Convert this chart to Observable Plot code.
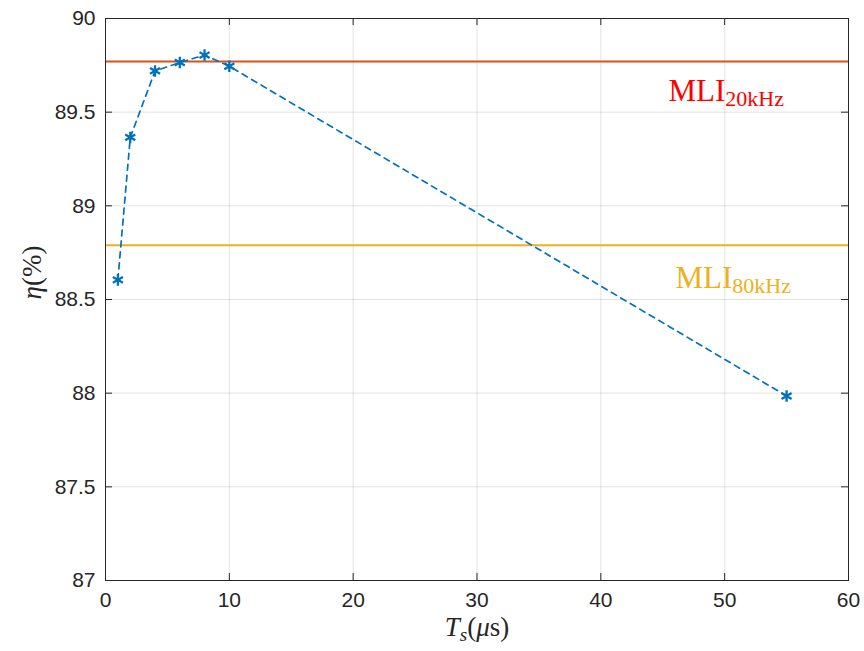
<!DOCTYPE html>
<html><head><meta charset="utf-8">
<script src="https://cdn.jsdelivr.net/npm/d3@7"></script>
<script src="https://cdn.jsdelivr.net/npm/@observablehq/plot@0.6"></script>
<style>body{margin:0;background:#fff}</style>
</head><body><div id="chart"></div>
<script>
// Data
const ts = [1, 2, 4, 6, 8, 10, 55];
const eta = [88.605, 89.365, 89.72, 89.765, 89.805, 89.745, 87.985];
const mliLevels = [89.77, 88.79];
const mliSubs = ["20kHz", "80kHz"];
const mliLineColors = ["#D95319", "#EDB120"];
const mliTextColors = ["#FF0000", "#EDB120"];
const mliLabelX = [45.46, 46.03];
const mliLabelY = [89.562, 88.564];
const xTicks = [0, 10, 20, 30, 40, 50, 60];
const yTicks = [87, 87.5, 88, 88.5, 89, 89.5, 90];

const pts = ts.map((t, i) => ({t, eta: eta[i]}));
const mli = mliLevels.map((v, i) => ({v, sub: mliSubs[i], line: mliLineColors[i], tc: mliTextColors[i], lx: mliLabelX[i], ly: mliLabelY[i]}));

const sans = "'Liberation Sans', Arial, Helvetica, sans-serif";
const serif = "'Liberation Serif', 'Times New Roman', serif";
const W = 864, H = 651, ML = 105, MR = 16, MT = 18, MB = 71;
const fw = W - ML - MR, fh = H - MT - MB, tk = 7;
const fmt = d => String(d);

const svg = Plot.plot({
  width: W, height: H,
  marginLeft: ML, marginRight: MR, marginTop: MT, marginBottom: MB,
  style: {fontFamily: sans, fontSize: "21px", color: "#262626", background: "#fff"},
  x: {domain: [0, 60]},
  y: {domain: [87, 90]},
  marks: [
    Plot.gridX(xTicks, {stroke: "#262626", strokeOpacity: 0.13, strokeWidth: 1}),
    Plot.gridY(yTicks, {stroke: "#262626", strokeOpacity: 0.13, strokeWidth: 1}),
    Plot.ruleY(mli, {y: "v", stroke: "line", strokeWidth: 2}),
    Plot.line(pts, {x: "t", y: "eta", stroke: "#0072BD", strokeWidth: 1.7, strokeDasharray: "6,5"}),
    Plot.dot(pts, {x: "t", y: "eta", symbol: "asterisk", r: 5.5, stroke: "#0072BD", strokeWidth: 2.3}),
    Plot.text(mli, {x: "lx", y: "ly", text: "sub", fill: "tc", textAnchor: "start", lineAnchor: "bottom", fontFamily: serif, fontSize: 31}),
    // inward MATLAB-style ticks on all four sides
    Plot.tickX(xTicks, {x: d => d, insetTop: fh - tk, stroke: "#262626"}),
    Plot.tickX(xTicks, {x: d => d, insetBottom: fh - tk, stroke: "#262626"}),
    Plot.tickY(yTicks, {y: d => d, insetRight: fw - tk, stroke: "#262626"}),
    Plot.tickY(yTicks, {y: d => d, insetLeft: fw - tk, stroke: "#262626"}),
    Plot.frame({stroke: "#262626", strokeWidth: 1}),
    Plot.axisX({ticks: xTicks, anchor: "bottom", tickSize: 0, tickPadding: 12, tickFormat: fmt, label: null, fontSize: 21}),
    Plot.axisY({ticks: yTicks, anchor: "left", tickSize: 0, tickPadding: 10, tickFormat: fmt, label: null, fontSize: 21}),
    Plot.text(["__XTITLE__"], {frameAnchor: "bottom", dy: 55, lineAnchor: "bottom", text: d => d, fontFamily: serif, fontSize: 27, fill: "#262626"}),
    Plot.text(["__YTITLE__"], {frameAnchor: "left", dx: -65, rotate: -90, lineAnchor: "bottom", text: d => d, fontFamily: serif, fontSize: 27, fill: "#262626"})
  ]
});

const s = d3.select(svg);
s.selectAll("text").each(function() {
  const el = d3.select(this);
  const t = this.textContent;
  if (mliSubs.includes(t)) {
    el.text(null);
    el.append("tspan").text("MLI");
    el.append("tspan").attr("font-size", 22).attr("dy", 5).text(t);
  } else if (t === "__XTITLE__") {
    el.text(null);
    el.append("tspan").attr("font-style", "italic").text("T");
    el.append("tspan").attr("font-style", "italic").attr("font-size", 19).attr("dy", 5).text("s");
    el.append("tspan").attr("dy", -5).text("(");
    el.append("tspan").attr("font-style", "italic").text("μ");
    el.append("tspan").text("s)");
  } else if (t === "__YTITLE__") {
    el.text(null);
    el.append("tspan").attr("font-style", "italic").text("η");
    el.append("tspan").text("(%)");
  }
});
document.getElementById("chart").appendChild(svg);
</script>
</body></html>
